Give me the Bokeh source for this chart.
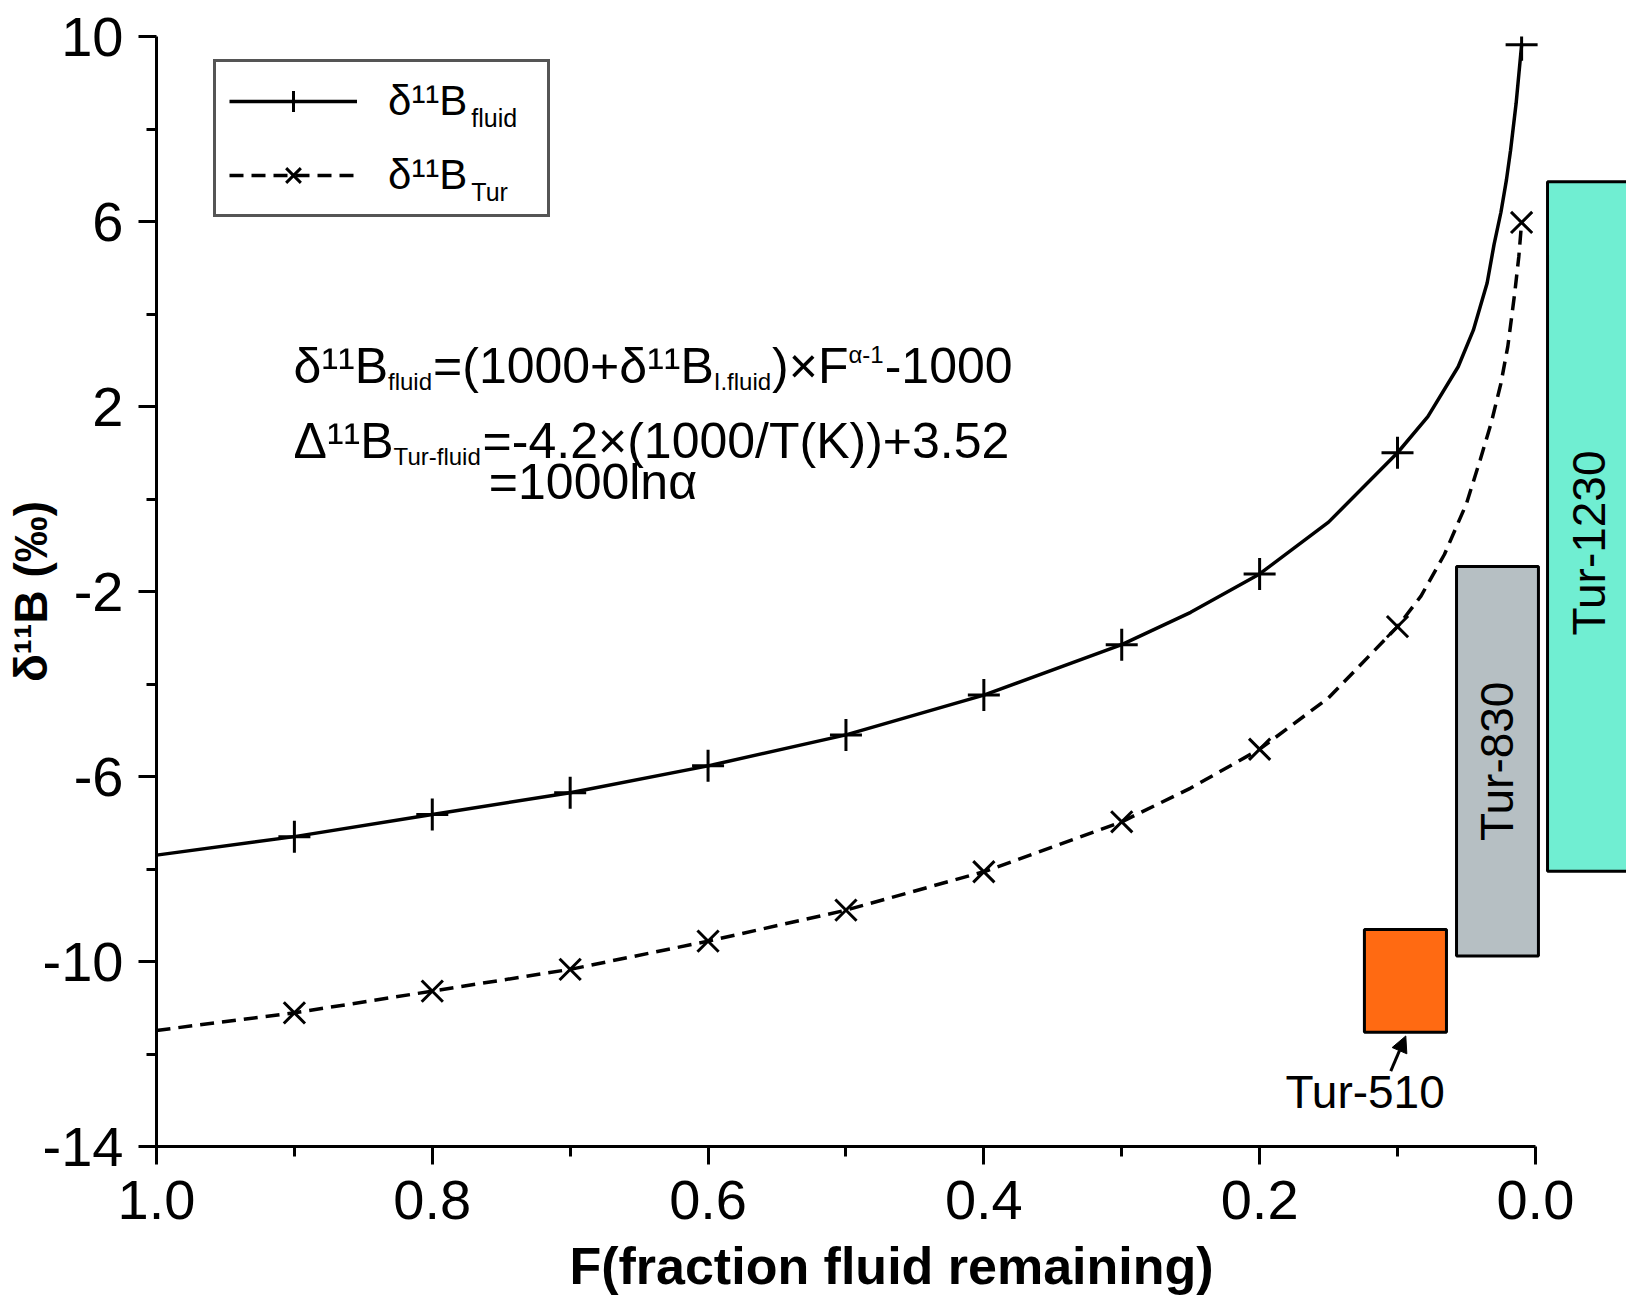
import math
from bokeh.plotting import figure
from bokeh.models import (Range1d, FixedTicker, PrintfTickFormatter, Label, Legend,
                          LegendItem, Arrow, NormalHead)
from bokeh.core.properties import value
from bokeh.embed import file_html
from bokeh.resources import INLINE

# ---------------- data ----------------
fluid_line_F = [1.0, 0.9, 0.8, 0.7, 0.6, 0.5, 0.4, 0.3, 0.25, 0.2, 0.15, 0.1, 0.078, 0.056,
                0.045, 0.035, 0.03, 0.025, 0.021, 0.018, 0.014, 0.01]
fluid_line_d = [-7.70, -7.30, -6.82, -6.35, -5.77, -5.10, -4.24, -3.15, -2.45, -1.62, -0.50, 1.00,
                1.78, 2.86, 3.65, 4.67, 5.50, 6.20, 6.90, 7.54, 8.55, 9.82]

tur_line_F = [1.0, 0.9, 0.8, 0.7, 0.6, 0.5, 0.4, 0.3, 0.25, 0.2, 0.15, 0.1, 0.083, 0.066, 0.05,
              0.04, 0.032, 0.025, 0.02, 0.015, 0.012, 0.01]
tur_line_d = [-11.49, -11.11, -10.64, -10.17, -9.56, -8.89, -8.06, -6.98, -6.25, -5.41, -4.30,
              -2.76, -2.10, -1.20, -0.10, 0.85, 1.65, 2.50, 3.30, 4.45, 5.25, 5.98]

marker_F = [0.9, 0.8, 0.7, 0.6, 0.5, 0.4, 0.3, 0.2, 0.1, 0.01]
fluid_marker_d = [-7.30, -6.82, -6.35, -5.77, -5.10, -4.24, -3.15, -1.62, 1.00, 9.82]
tur_marker_d = [-11.11, -10.64, -10.17, -9.56, -8.89, -8.06, -6.98, -5.41, -2.76, 5.98]

box_names = ["Tur-510", "Tur-830", "Tur-1230"]
box_left = [0.124, 0.0572, -0.0088]
box_right = [0.0645, -0.0022, -0.08]
box_top = [-9.31, -1.46, 6.86]
box_bottom = [-11.53, -9.88, -8.05]
box_colors = ["#FF6A12", "#B6BFC3", "#70EED2"]

x_ticks = [1.0, 0.8, 0.6, 0.4, 0.2, 0.0]
x_minor = [0.9, 0.7, 0.5, 0.3, 0.1]
y_ticks = [-14, -10, -6, -2, 2, 6, 10]
y_minor = [-12, -8, -4, 0, 4, 8]

x_label = "F(fraction fluid remaining)"
y_label = "δ¹¹B (‰)"

# ---------------- layout ----------------
FONT = "Liberation Sans"
W, H = 1626, 1297
FL, FT = 156, 36
FH = 1111
FB = H - FT - FH
FW = W - FL
PX_PER_X = 1378.9
x_end = 1.0 - FW / PX_PER_X

p = figure(width=W, height=H, x_range=Range1d(1.0, x_end), y_range=Range1d(-14, 10),
           output_backend="svg", toolbar_location=None,
           min_border_left=FL, min_border_right=0, min_border_top=FT, min_border_bottom=FB)
p.xgrid.visible = False
p.ygrid.visible = False
p.outline_line_color = None
p.background_fill_color = "white"
p.border_fill_color = "white"

for ax in (p.xaxis[0], p.yaxis[0]):
    ax.axis_line_width = 3
    ax.axis_line_color = "black"
    ax.major_tick_line_width = 3
    ax.minor_tick_line_width = 3
    ax.major_tick_line_color = "black"
    ax.minor_tick_line_color = "black"
    ax.major_tick_out = 18
    ax.major_tick_in = 0
    ax.minor_tick_out = 10
    ax.minor_tick_in = 0
    ax.major_label_text_font = FONT
    ax.major_label_text_font_size = "56px"
    ax.major_label_text_color = "black"
    ax.axis_label_text_font = FONT
    ax.axis_label_text_font_style = "bold"
    ax.axis_label_text_color = "black"

xa = p.xaxis[0]
xa.ticker = FixedTicker(ticks=x_ticks, minor_ticks=x_minor)
xa.formatter = PrintfTickFormatter(format="%.1f")
xa.bounds = (0.0, 1.0)
xa.major_label_standoff = 16
xa.axis_label = x_label
xa.axis_label_text_font_size = "52px"
xa.axis_label_standoff = 15

ya = p.yaxis[0]
ya.ticker = FixedTicker(ticks=y_ticks, minor_ticks=y_minor)
ya.formatter = PrintfTickFormatter(format="%d")
ya.major_label_standoff = 15
ya.axis_label = y_label
ya.axis_label_text_font_size = "46px"
ya.axis_label_standoff = -17

# boxes
p.quad(left=box_left, right=box_right, top=box_top, bottom=box_bottom,
       fill_color=box_colors, line_color="black", line_width=3)

# curves
l1 = p.line(fluid_line_F, fluid_line_d, line_color="black", line_width=3.5)
s1 = p.scatter(marker_F, fluid_marker_d, marker="cross", size=32, line_color="black", line_width=3)
l2 = p.line(tur_line_F, tur_line_d, line_color="black", line_width=3.5, line_dash="14 8")
s2 = p.scatter(marker_F, tur_marker_d, marker="x", size=30, line_color="black", line_width=3)

# box labels
p.text(x=[0.0275, -0.039], y=[-5.67, -0.95], text=["Tur-830", "Tur-1230"], angle=math.pi / 2,
       text_align="center", text_baseline="middle", text_font=value(FONT),
       text_font_size="46px", text_color="black")
p.text(x=[0.1235], y=[-12.83], text=["Tur-510"], text_align="center",
       text_baseline="middle", text_font=value(FONT), text_font_size="46px", text_color="black")
p.add_layout(Arrow(end=NormalHead(size=16, fill_color="black", line_color="black", line_width=1),
                   x_start=0.1049, y_start=-12.37, x_end=0.0940, y_end=-11.61,
                   line_width=3, line_color="black"))

# legend
LEG_X, LEG_TOP, LEG_PAD, LEG_ITEM, LEG_SP = 57, 25, 13, 52, 22
LEG_GLYPH, LEG_STANDOFF = 128, 31
LEG_H = 2 * LEG_PAD + 2 * LEG_ITEM + LEG_SP + 5
legend = Legend(items=[LegendItem(label="δ¹¹B", renderers=[l1, s1]),
                       LegendItem(label="δ¹¹B", renderers=[l2, s2])],
                location=(LEG_X, FH - LEG_TOP - LEG_H))
legend.label_text_font = FONT
legend.label_text_font_size = "42px"
legend.label_text_color = "black"
legend.glyph_width = LEG_GLYPH
legend.glyph_height = LEG_ITEM
legend.label_height = LEG_ITEM
legend.label_width = 146
legend.label_standoff = LEG_STANDOFF
legend.padding = LEG_PAD
legend.spacing = LEG_SP
legend.margin = 0
legend.border_line_color = "#555555"
legend.border_line_alpha = 1.0
legend.border_line_width = 3
legend.background_fill_alpha = 0.0
p.add_layout(legend)

# rich-text helper (Liberation Sans / Arial advance widths, em)
WID = {'0': .556, '1': .556, '2': .556, '3': .556, '4': .556, '5': .556, '6': .556, '7': .556,
       '8': .556, '9': .556, '¹': .333, 'δ': .556, 'Δ': .668, 'B': .667, '=': .584, '(': .333,
       ')': .333, '+': .584, '×': .584, 'F': .611, '-': .333, '.': .278, '/': .278, 'T': .611,
       'K': .667, 'l': .222, 'n': .556, 'α': .578, 'f': .278, 'u': .556, 'i': .222, 'd': .556,
       'r': .333, 'I': .278, ' ': .278}


def tw(s, size):
    return sum(WID.get(c, .556) for c in s) * size


def rich(x, y, runs, main=50, small=24, x0=0.0, y0=0.0, sub_drop=16, sup_raise=11):
    off = x0
    for txt, kind in runs:
        size = main if kind == "n" else small
        dy = 0 if kind == "n" else (sup_raise if kind == "sup" else -sub_drop)
        p.add_layout(Label(x=x, y=y, x_offset=off, y_offset=y0 + dy, text=txt,
                           text_font=FONT, text_font_size=f"{size}px", level="overlay",
                           text_baseline="alphabetic", text_align="left", text_color="black"))
        off += tw(txt, size) + (1 if kind != "n" else 0)


# legend subscripts (anchored to frame top-left corner)
leg_text_x = LEG_X + LEG_PAD + LEG_GLYPH + LEG_STANDOFF + 3.5
leg_sub_x = leg_text_x + tw("δ¹¹B", 42) + 3
row1 = LEG_TOP + 2.5 + LEG_PAD + LEG_ITEM / 2
row2 = row1 + LEG_ITEM + LEG_SP
rich(1.0, 10, [("fluid", "n")], main=25, x0=leg_sub_x, y0=-(row1 + 22 - 7.5))
rich(1.0, 10, [("Tur", "n")], main=25, x0=leg_sub_x, y0=-(row2 + 22 - 7.5))

# formula
rich(0.9006, 2.88, [("δ¹¹B", "n"), ("fluid", "sub"), ("=(1000+δ¹¹B", "n"), ("I.fluid", "sub"),
                    (")×F", "n"), ("α-1", "sup"), ("-1000", "n")])
rich(0.9006, 1.26, [("Δ¹¹B", "n"), ("Tur-fluid", "sub"), ("=-4.2×(1000/T(K))+3.52", "n")])
rich(0.759, 0.36, [("=1000lnα", "n")])

open("out.html", "w").write(file_html(p, INLINE))
